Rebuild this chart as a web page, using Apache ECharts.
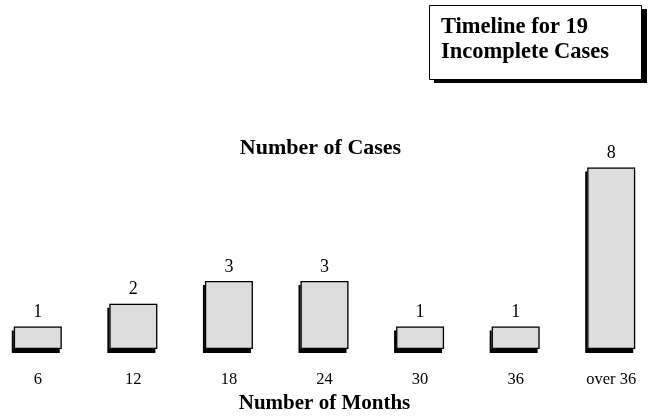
<!DOCTYPE html>
<html>
<head>
<meta charset="utf-8">
<script src="https://cdn.jsdelivr.net/npm/echarts@6/dist/echarts.min.js"></script>
<style>
html,body{margin:0;padding:0;background:#fff;overflow:hidden;}
#c{width:669px;height:419px;margin-left:-10px;}
</style>
</head>
<body>
<div id="c"></div>
<script>
var categories = ['6', '12', '18', '24', '30', '36', 'over 36'];
var caseCounts = [1, 2, 3, 3, 1, 1, 8];
var boxTitle = 'Timeline for 19\nIncomplete Cases';
var yTitle = 'Number of Cases';
var xTitle = 'Number of Months';

var FONT = '"Liberation Serif", "Times New Roman", serif';
var OX = 10; // container is shifted 10px left
var chart = echarts.init(document.getElementById('c'), null, {renderer: 'canvas'});
chart.setOption({
  animation: false,
  backgroundColor: '#fff',
  grid: {left: 0, right: 0, top: 122, bottom: 68, containLabel: false},
  xAxis: {
    type: 'category',
    data: categories,
    axisLine: {show: false},
    axisTick: {show: false},
    axisLabel: {color: '#000', fontFamily: FONT, fontSize: 16.5, margin: 22},
    name: xTitle,
    nameLocation: 'middle',
    nameGap: 43,
    nameTextStyle: {color: '#000', fontFamily: FONT, fontSize: 21, fontWeight: 'bold'}
  },
  yAxis: {type: 'value', min: 0, max: 10, show: false},
  series: [
    {
      type: 'bar',
      data: caseCounts,
      barWidth: 48,
      z: 2,
      itemStyle: {
        color: '#dcdcdc',
        borderWidth: 0,
        shadowColor: '#000',
        shadowBlur: 0,
        shadowOffsetX: -2,
        shadowOffsetY: 4
      }
    },
    {
      type: 'bar',
      data: caseCounts,
      barWidth: 48,
      barGap: '-100%',
      z: 3,
      itemStyle: {
        color: 'rgba(0,0,0,0)',
        borderColor: '#000',
        borderWidth: 1.3
      },
      label: {
        show: true,
        position: 'top',
        distance: 5,
        color: '#000',
        fontFamily: FONT,
        fontSize: 18
      }
    }
  ],
  graphic: [
    {
      type: 'rect',
      shape: {x: 434 + OX, y: 9, width: 213, height: 74},
      style: {fill: '#000'}
    },
    {
      type: 'rect',
      shape: {x: 429.5 + OX, y: 5.5, width: 212, height: 74},
      style: {fill: '#fff', stroke: '#000', lineWidth: 1}
    },
    {
      type: 'text',
      x: 441 + OX, y: 15,
      style: {text: boxTitle, fill: '#000', font: 'bold 22.5px ' + FONT, lineHeight: 25}
    },
    {
      type: 'text',
      x: 320.5 + OX, y: 148,
      style: {text: yTitle, fill: '#000', font: 'bold 22px ' + FONT, textAlign: 'center', textVerticalAlign: 'middle'}
    }
  ]
});
</script>
</body>
</html>
